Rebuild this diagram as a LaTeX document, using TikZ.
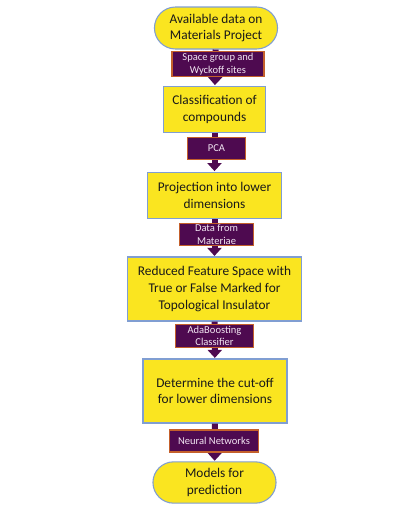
\documentclass[tikz,border=0pt]{standalone}
\usepackage{fontspec}
\setmainfont{Carlito}
\usepackage{tikz}
\usetikzlibrary{shapes.misc,arrows.meta}
\definecolor{boxyellow}{RGB}{250,229,32}
\definecolor{boxedge}{RGB}{128,158,210}
\definecolor{darkplum}{RGB}{78,10,80}
\definecolor{labeledge}{RGB}{196,96,44}
\tikzstyle{terminal}=[shape=rounded rectangle,draw=boxedge,fill=boxyellow,line width=0.8pt,align=center,font=\fontsize{10}{12.6}\selectfont,text=black!90]
\tikzstyle{stepbox}=[shape=rectangle,draw=boxedge,fill=boxyellow,line width=0.8pt,align=center,font=\fontsize{10}{12.6}\selectfont,text=black!90]
\tikzstyle{method}=[shape=rectangle,draw=labeledge,fill=darkplum,line width=0.8pt,align=center,inner sep=1pt,font=\fontsize{7.9}{9.5}\selectfont,text=white!90!violet]
\tikzstyle{bigarrow}=[{Triangle[width=10.5pt,length=6pt]}-,line width=4.5pt,draw=darkplum,shorten <=0.4pt]

\begin{document}
\begin{tikzpicture}[x=0.75pt,y=-0.75pt]

		\useasboundingbox (0,0) rectangle (408,511);

		% main steps
		\node[terminal,minimum width=99pt,minimum height=31.5pt] (data) at (216,28) {Available data on\\Materials Project};
		\node[stepbox,minimum width=77pt,minimum height=35pt] (classify) at (214.5,109.5) {Classification of\\compounds}
			edge [bigarrow] (data);
		\node[stepbox,minimum width=101pt,minimum height=35pt] (project) at (214.5,195.5) {Projection into lower\\dimensions}
			edge [bigarrow] (classify);
		\node[stepbox,minimum width=131pt,minimum height=48pt] (reduced) at (214.5,289) {Reduced Feature Space with\\True or False Marked for\\Topological Insulator}
			edge [bigarrow] (project);
		\node[stepbox,minimum width=108pt,minimum height=48pt] (cutoff) at (215,391) {Determine the cut-off\\for lower dimensions}
			edge [bigarrow] (reduced);
		\node[terminal,minimum width=99pt,minimum height=31pt] (models) at (214.5,482.5) {Models for\\prediction}
			edge [bigarrow] (cutoff);

		% methods on the arrows
		\node[method,minimum width=69pt,minimum height=16.5pt] (wyckoff) at (218,64) {Space group and\\Wyckoff sites};
		\node[method,minimum width=43pt,minimum height=16pt] (pca) at (216.5,148.5) {PCA};
		\node[method,minimum width=55pt,minimum height=17pt] (materiae) at (216.5,234.5) {Data from\\Materiae};
		\node[method,minimum width=59pt,minimum height=16.5pt] (adaboost) at (214.5,336) {AdaBoosting\\Classifier};
		\node[method,minimum width=67pt,minimum height=16.5pt] (neural) at (214,441) {Neural Networks};

\end{tikzpicture}
\end{document}
